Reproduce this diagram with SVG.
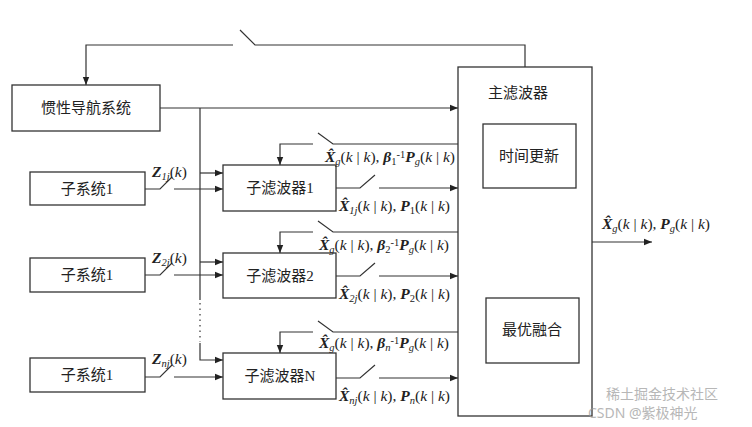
<svg xmlns="http://www.w3.org/2000/svg" width="752" height="427" viewBox="0 0 752 427">
<defs>
<marker id="a" viewBox="0 0 10 10" refX="10" refY="5" markerWidth="8" markerHeight="8" markerUnits="userSpaceOnUse" orient="auto"><path d="M0,1 L10,5 L0,9 z" fill="#222"/></marker>
<style>
.b{fill:#fff;stroke:#333;stroke-width:1.3}
.l{fill:none;stroke:#333;stroke-width:1.2}
.t{font-family:"Liberation Serif","Noto Sans CJK SC",serif;font-size:15px;fill:#222;text-anchor:middle}
.m{font-family:"Liberation Serif",serif;font-size:15.5px;fill:#222}
.bi{font-weight:bold;font-style:italic}
.i{font-style:italic}
.s{font-size:10.5px}
</style>
</defs>
<rect width="752" height="427" fill="#fff"/>
<g id="connectors" class="l">
<path d="M525,67 V45 H255 L240,30 M233,45 H86 V85" marker-end="url(#a)"/>
<path d="M160,108 H458" marker-end="url(#a)"/>
<path d="M200,108 V300 M200,343 V360 H223" marker-end="url(#a)"/>
<path d="M200,303 V342" stroke-dasharray="1.5,4"/>
<path d="M200,173 H223" marker-end="url(#a)"/>
<path d="M200,262 H223" marker-end="url(#a)"/>
<path d="M145,189 H160 L172,177 M174,189 H223" marker-end="url(#a)"/>
<path d="M145,275 H160 L172,263 M174,275 H223" marker-end="url(#a)"/>
<path d="M145,377 H160 L172,365 M174,377 H223" marker-end="url(#a)"/>
<path d="M458,144 H333 L318,133 M313,144 H280 V165" marker-end="url(#a)"/>
<path d="M458,232 H333 L318,221 M313,232 H280 V253" marker-end="url(#a)"/>
<path d="M458,332 H333 L318,321 M313,332 H280 V353" marker-end="url(#a)"/>
<path d="M336,188 H360 L375,175 M379,188 H458" marker-end="url(#a)"/>
<path d="M336,276 H360 L375,263 M379,276 H458" marker-end="url(#a)"/>
<path d="M336,378 H360 L375,365 M379,378 H458" marker-end="url(#a)"/>
<path d="M506,188 V298" marker-end="url(#a)"/>
<path d="M554,298 V188" marker-end="url(#a)"/>
<path d="M592,242 H652" marker-end="url(#a)"/>
</g>
<g id="ins"><rect class="b" x="12" y="85" width="148" height="46"/><text class="t" x="86" y="113">惯性导航系统</text></g>
<g id="main"><rect class="b" x="458" y="67" width="134" height="349"/><text class="t" x="518" y="98">主滤波器</text></g>
<g id="time"><rect class="b" x="483" y="124" width="93" height="64"/><text class="t" x="529" y="161">时间更新</text></g>
<g id="fusion"><rect class="b" x="486" y="298" width="93" height="65"/><text class="t" x="532" y="335">最优融合</text></g>
<g id="sub1"><rect class="b" x="30" y="172" width="115" height="33"/><text class="t" x="87" y="194">子系统1</text></g>
<g id="sub2"><rect class="b" x="30" y="258" width="115" height="34"/><text class="t" x="87" y="280">子系统1</text></g>
<g id="subN"><rect class="b" x="30" y="358" width="115" height="34"/><text class="t" x="87" y="380">子系统1</text></g>
<g id="f1"><rect class="b" x="223" y="165" width="113" height="46"/><text class="t" x="280" y="193">子滤波器1</text></g>
<g id="f2"><rect class="b" x="223" y="253" width="113" height="45"/><text class="t" x="280" y="281">子滤波器2</text></g>
<g id="fN"><rect class="b" x="223" y="353" width="113" height="46"/><text class="t" x="280" y="381">子滤波器N</text></g>
<g id="labels" class="m">
<text x="152" y="177"><tspan class="bi">Z</tspan><tspan class="s i" dy="3">1j</tspan><tspan dy="-3">(</tspan><tspan class="i">k</tspan>)</text>
<text x="152" y="263"><tspan class="bi">Z</tspan><tspan class="s i" dy="3">2j</tspan><tspan dy="-3">(</tspan><tspan class="i">k</tspan>)</text>
<text x="152" y="364"><tspan class="bi">Z</tspan><tspan class="s i" dy="3">nj</tspan><tspan dy="-3">(</tspan><tspan class="i">k</tspan>)</text>
<text x="325" y="162"><tspan class="bi">X̂</tspan><tspan class="s i" dy="3">g</tspan><tspan dy="-3">(</tspan><tspan class="i">k</tspan> | <tspan class="i">k</tspan>), <tspan class="bi">β</tspan><tspan class="s" dy="3">1</tspan><tspan class="s" dy="-7">-1</tspan><tspan class="bi" dy="4">P</tspan><tspan class="s i" dy="3">g</tspan><tspan dy="-3">(</tspan><tspan class="i">k</tspan> | <tspan class="i">k</tspan>)</text>
<text x="319" y="250"><tspan class="bi">X̂</tspan><tspan class="s i" dy="3">g</tspan><tspan dy="-3">(</tspan><tspan class="i">k</tspan> | <tspan class="i">k</tspan>), <tspan class="bi">β</tspan><tspan class="s" dy="3">2</tspan><tspan class="s" dy="-7">-1</tspan><tspan class="bi" dy="4">P</tspan><tspan class="s i" dy="3">g</tspan><tspan dy="-3">(</tspan><tspan class="i">k</tspan> | <tspan class="i">k</tspan>)</text>
<text x="319" y="348"><tspan class="bi">X̂</tspan><tspan class="s i" dy="3">g</tspan><tspan dy="-3">(</tspan><tspan class="i">k</tspan> | <tspan class="i">k</tspan>), <tspan class="bi">β</tspan><tspan class="s i" dy="3">n</tspan><tspan class="s" dy="-7">-1</tspan><tspan class="bi" dy="4">P</tspan><tspan class="s i" dy="3">g</tspan><tspan dy="-3">(</tspan><tspan class="i">k</tspan> | <tspan class="i">k</tspan>)</text>
<text x="339" y="211"><tspan class="bi">X̂</tspan><tspan class="s i" dy="3">1j</tspan><tspan dy="-3">(</tspan><tspan class="i">k</tspan> | <tspan class="i">k</tspan>), <tspan class="bi">P</tspan><tspan class="s" dy="3">1</tspan><tspan dy="-3">(</tspan><tspan class="i">k</tspan> | <tspan class="i">k</tspan>)</text>
<text x="339" y="299"><tspan class="bi">X̂</tspan><tspan class="s i" dy="3">2j</tspan><tspan dy="-3">(</tspan><tspan class="i">k</tspan> | <tspan class="i">k</tspan>), <tspan class="bi">P</tspan><tspan class="s" dy="3">2</tspan><tspan dy="-3">(</tspan><tspan class="i">k</tspan> | <tspan class="i">k</tspan>)</text>
<text x="339" y="401"><tspan class="bi">X̂</tspan><tspan class="s i" dy="3">nj</tspan><tspan dy="-3">(</tspan><tspan class="i">k</tspan> | <tspan class="i">k</tspan>), <tspan class="bi">P</tspan><tspan class="s i" dy="3">n</tspan><tspan dy="-3">(</tspan><tspan class="i">k</tspan> | <tspan class="i">k</tspan>)</text>
<text x="602" y="229"><tspan class="bi">X̂</tspan><tspan class="s i" dy="3">g</tspan><tspan dy="-3">(</tspan><tspan class="i">k</tspan> | <tspan class="i">k</tspan>), <tspan class="bi">P</tspan><tspan class="s i" dy="3">g</tspan><tspan dy="-3">(</tspan><tspan class="i">k</tspan> | <tspan class="i">k</tspan>)</text>
</g>
<g id="watermark" font-family="'Noto Sans','Noto Sans CJK SC',sans-serif" font-size="14" fill="#999" opacity="0.7">
<text x="606" y="399">稀土掘金技术社区</text>
<text x="588" y="418">CSDN @紫极神光</text>
</g>
</svg>
